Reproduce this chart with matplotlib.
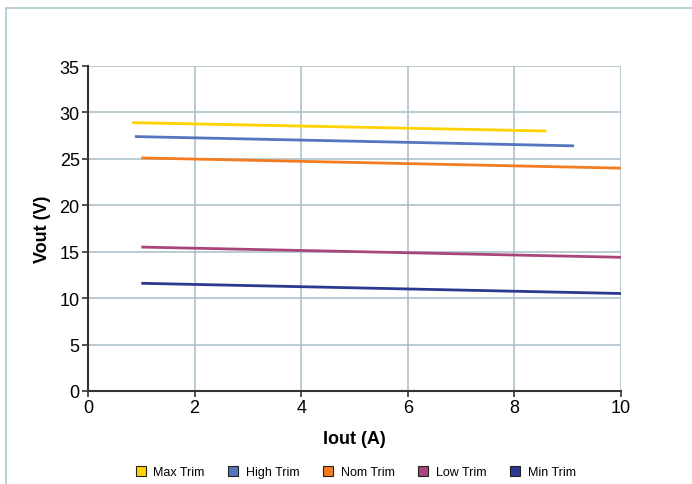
import matplotlib.pyplot as plt
from matplotlib.lines import Line2D
from matplotlib.patches import Rectangle

plt.rcParams['font.family'] = ['Liberation Sans', 'DejaVu Sans']

# curves (start / end points)
series = ['Max Trim', 'High Trim', 'Nom Trim', 'Low Trim', 'Min Trim']
iout = {
    'Max Trim': [0.83, 8.6],
    'High Trim': [0.88, 9.12],
    'Nom Trim': [1.0, 10.0],
    'Low Trim': [1.0, 10.0],
    'Min Trim': [1.0, 10.0],
}
vout = {
    'Max Trim': [28.9, 28.0],
    'High Trim': [27.4, 26.4],
    'Nom Trim': [25.1, 24.0],
    'Low Trim': [15.5, 14.4],
    'Min Trim': [11.6, 10.5],
}
colors = ['#ffd200', '#5475c0', '#f47b20', '#a8467b', '#2b3990']

W, H = 692, 485
fig = plt.figure(figsize=(W / 100, H / 100), dpi=100)
ax = fig.add_axes([88 / W, 1 - 392 / H, (621 - 88) / W, (392 - 67) / H])

grid_c = '#aec2c9'
for s, c in zip(series, colors):
    ax.plot(iout[s], vout[s], color=c, lw=2.0, solid_capstyle='butt', zorder=3)

ax.set_xlim(0, 10)
ax.set_ylim(0, 35)
ax.set_xticks(range(0, 11, 2))
ax.set_yticks(range(0, 36, 5))
ax.grid(True, color=grid_c, lw=1.2)
ax.set_axisbelow(True)
for side in ['top', 'right']:
    ax.spines[side].set_visible(False)
for side in ['left', 'bottom']:
    ax.spines[side].set_color('#333333')
    ax.spines[side].set_linewidth(1.5)
ax.tick_params(axis='both', labelsize=13, length=4, width=1.2, color='#333333', pad=2)
ax.set_xlabel('Iout (A)', fontsize=13, fontweight='bold', labelpad=10)
ax.set_ylabel('Vout (V)', fontsize=13, fontweight='bold', labelpad=6)

# outer frame (cut off at right and bottom)
fig.patches.append(Rectangle((6 / W, -0.1), 1.2, 1 - 9 / H + 0.1,
                             transform=fig.transFigure, fill=False,
                             edgecolor='#b3cbd3', lw=1.3))

handles = [Line2D([], [], ls='none', marker='s', markersize=7,
                  markerfacecolor=c, markeredgecolor='#222222', markeredgewidth=0.8)
           for c in colors]
fig.legend(handles, series, loc='center', bbox_to_anchor=(355 / W, 1 - 473 / H),
           ncol=5, frameon=False, fontsize=9, handletextpad=0.5,
           columnspacing=1.8, handlelength=1.0)

fig.savefig('out.png', dpi=100)
